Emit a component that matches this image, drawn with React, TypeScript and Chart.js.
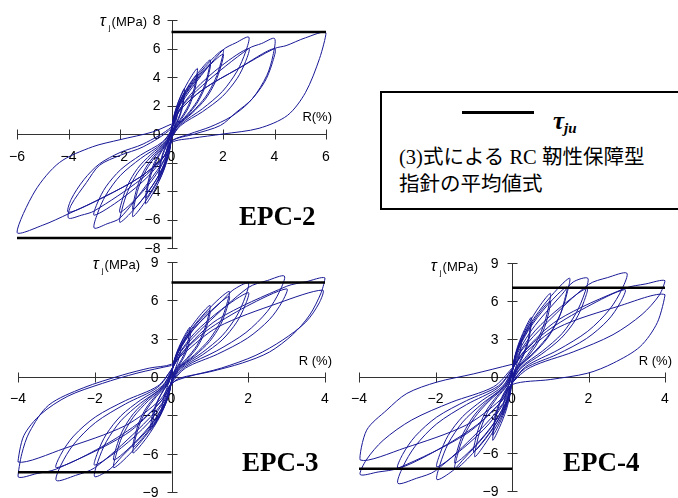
import React, { useEffect, useRef } from 'react';
import { Chart, registerables } from 'chart.js';
Chart.register(...registerables);

type Pt = [number, number];

const W = 678;
const H = 498;
const LOOP_COLOR = 'rgb(24,24,150)';

const epc2XTicks = [-6, -4, -2, 0, 2, 4, 6];
const epc2YTicks = [-8, -6, -4, -2, 0, 2, 4, 6, 8];
const epc34XTicks = [-4, -2, 0, 2, 4];
const epc34YTicks = [-9, -6, -3, 0, 3, 6, 9];

const epc2TauJu = [7.15, -7.3];
const epc3TauJu = [7.4, -7.45];
const epc4TauJu = [7.05, -7.25];

// EPC-2 : R (%) , tau_j (MPa) read along the recorded path
const epc2Loop: Pt[] = [
  [0, 0],
  [0.075, 0.94], [0.25, 1.8], [0.21, 1.17], [0.1, 0.47], [0, -0.2],
  [-0.075, -1.04], [-0.25, -2.0], [-0.21, -1.3], [-0.1, -0.52], [0, 0.2],
  [0.04, 0.8], [0.15, 1.66], [0.33, 2.56], [0.5, 3.2],
  [0.48, 2.7], [0.43, 2.1], [0.33, 1.4], [0.2, 0.83], [0.06, 0.32], [0, -0.2],
  [-0.04, -0.83], [-0.15, -1.72], [-0.33, -2.64], [-0.5, -3.3],
  [-0.48, -2.8], [-0.43, -2.15], [-0.33, -1.45], [-0.2, -0.86], [-0.06, -0.33], [0, 0.2],
  [0.04, 0.73], [0.15, 1.51], [0.33, 2.32], [0.5, 2.9],
  [0.48, 2.47], [0.43, 1.89], [0.33, 1.28], [0.2, 0.75], [0.06, 0.29], [0, -0.2],
  [-0.04, -0.75], [-0.15, -1.56], [-0.33, -2.4], [-0.5, -3.0],
  [-0.48, -2.55], [-0.43, -1.95], [-0.33, -1.32], [-0.2, -0.78], [-0.06, -0.3], [0, 0.2],
  [0.08, 1.15], [0.3, 2.39], [0.65, 3.68], [1.0, 4.6],
  [0.96, 3.91], [0.85, 2.99], [0.66, 2.02], [0.4, 1.2], [0.12, 0.46], [0, -0.3],
  [-0.08, -1.23], [-0.3, -2.55], [-0.65, -3.92], [-1.0, -4.9],
  [-0.96, -4.17], [-0.85, -3.19], [-0.66, -2.16], [-0.4, -1.27], [-0.12, -0.49], [0, 0.3],
  [0.08, 1.05], [0.3, 2.18], [0.65, 3.36], [1.0, 4.2],
  [0.96, 3.57], [0.85, 2.73], [0.66, 1.85], [0.4, 1.09], [0.12, 0.42], [0, -0.3],
  [-0.08, -1.13], [-0.3, -2.34], [-0.65, -3.6], [-1.0, -4.5],
  [-0.96, -3.83], [-0.85, -2.93], [-0.66, -1.98], [-0.4, -1.17], [-0.12, -0.45], [0, 0.3],
  [0.12, 1.3], [0.45, 2.7], [0.98, 4.16], [1.5, 5.2],
  [1.44, 4.42], [1.28, 3.38], [0.99, 2.29], [0.6, 1.35], [0.18, 0.52], [0, -0.3],
  [-0.12, -1.45], [-0.45, -3.02], [-0.98, -4.64], [-1.5, -5.8],
  [-1.44, -4.93], [-1.28, -3.77], [-0.99, -2.55], [-0.6, -1.51], [-0.18, -0.58], [0, 0.3],
  [0.12, 1.23], [0.45, 2.55], [0.98, 3.92], [1.5, 4.9],
  [1.44, 4.17], [1.28, 3.19], [0.99, 2.16], [0.6, 1.27], [0.18, 0.49], [0, -0.3],
  [-0.12, -1.33], [-0.45, -2.76], [-0.98, -4.24], [-1.5, -5.3],
  [-1.44, -4.5], [-1.28, -3.45], [-0.99, -2.33], [-0.6, -1.38], [-0.18, -0.53], [0, 0.3],
  [0.16, 1.48], [0.6, 3.07], [1.3, 4.72], [2.0, 5.9],
  [1.92, 5.02], [1.7, 3.84], [1.32, 2.6], [0.8, 1.53], [0.24, 0.59], [0, -0.3],
  [-0.16, -1.55], [-0.6, -3.22], [-1.3, -4.96], [-2.0, -6.2],
  [-1.92, -5.27], [-1.7, -4.03], [-1.32, -2.73], [-0.8, -1.61], [-0.24, -0.62], [0, 0.3],
  [0.16, 1.4], [0.6, 2.91], [1.3, 4.48], [2.0, 5.6],
  [1.92, 4.76], [1.7, 3.64], [1.32, 2.46], [0.8, 1.46], [0.24, 0.56], [0, -0.3],
  [-0.16, -1.38], [-0.6, -2.86], [-1.3, -4.4], [-2.0, -5.5],
  [-1.92, -4.68], [-1.7, -3.58], [-1.32, -2.42], [-0.8, -1.43], [-0.24, -0.55], [0, 0.3],
  [0.24, 1.7], [0.9, 3.5], [2.0, 5.9], [2.5, 6.4], [3.0, 6.8],
  [2.88, 5.78], [2.55, 4.42], [1.98, 2.99], [1.2, 1.77], [0.36, 0.68], [0, -0.3],
  [-0.24, -1.65], [-0.9, -3.4], [-2.0, -5.9], [-2.5, -6.3], [-3.0, -6.6],
  [-2.88, -5.61], [-2.55, -4.29], [-1.98, -2.9], [-1.2, -1.72], [-0.36, -0.66], [0, 0.3],
  [0.24, 1.5], [0.9, 3.1], [1.95, 4.8], [3.0, 6.0],
  [2.88, 5.1], [2.55, 3.9], [1.98, 2.64], [1.2, 1.56], [0.36, 0.6], [0, -0.3],
  [-0.24, -1.43], [-0.9, -2.96], [-1.95, -4.56], [-3.0, -5.7],
  [-2.88, -4.85], [-2.55, -3.71], [-1.98, -2.51], [-1.2, -1.48], [-0.36, -0.57], [0, 0.3],
  [0.3, 1.7], [1.2, 3.4], [3.0, 6.0], [3.5, 6.35], [4.0, 6.7],
  [3.94, 5.5], [3.7, 4.1], [3.15, 2.5], [2.5, 1.5], [1.9, 0.6], [0.9, 0.0], [0, -0.5],
  [-0.3, -1.6], [-1.2, -3.2], [-3.0, -5.4], [-3.5, -5.7], [-4.0, -5.9],
  [-3.9, -5.0], [-3.3, -3.4], [-2.8, -2.2], [-2.0, -1.5], [-1.1, -0.9], [0, 0.4],
  [0.3, 1.6], [1.2, 3.1], [2.6, 4.6], [4.0, 6.0],
  [3.9, 4.9], [3.6, 3.6], [3.0, 2.2], [2.3, 1.2], [1.5, 0.5], [0.7, 0.0], [0, -0.5],
  [-0.3, -1.6], [-1.2, -3.0], [-2.6, -4.4], [-4.0, -5.5],
  [-3.9, -4.6], [-3.4, -3.2], [-2.8, -2.1], [-2.0, -1.3], [-1.1, -0.7], [0, 0.5],
  [0.3, 1.6], [1.2, 3.1], [2.6, 4.6], [4.0, 6.0], [4.45, 6.2], [5.2, 6.75], [6.0, 7.1],
  [5.75, 5.3], [5.2, 2.9], [4.5, 1.3], [3.4, 0.4], [2.0, 0.0], [0.8, -0.3], [0, -0.6],
  [-0.3, -1.6], [-1.2, -3.0], [-2.6, -4.4], [-4.0, -5.6], [-5.0, -6.4], [-6.0, -6.9],
  [-5.3, -4.0], [-4.35, -2.0], [-3.07, -0.9], [-2.0, -0.4], [-0.74, 0.14], [0, 0.7],
];

// EPC-3
const epc3Loop: Pt[] = [
  [0, 0],
  [0.075, 1.3], [0.25, 2.5], [0.21, 1.63], [0.1, 0.65], [0, -0.3],
  [-0.075, -1.35], [-0.25, -2.6], [-0.21, -1.69], [-0.1, -0.68], [0, 0.3],
  [0.04, 0.98], [0.15, 2.03], [0.32, 3.12], [0.48, 3.9],
  [0.46, 3.32], [0.41, 2.54], [0.32, 1.72], [0.19, 1.01], [0.06, 0.39], [0, -0.3],
  [-0.04, -1.04], [-0.16, -2.16], [-0.36, -3.32], [-0.55, -4.15],
  [-0.53, -3.53], [-0.47, -2.7], [-0.36, -1.83], [-0.22, -1.08], [-0.07, -0.42], [0, 0.3],
  [0.04, 0.9], [0.15, 1.87], [0.33, 2.88], [0.5, 3.6],
  [0.48, 3.06], [0.43, 2.34], [0.33, 1.58], [0.2, 0.94], [0.06, 0.36], [0, -0.3],
  [-0.04, -0.98], [-0.15, -2.03], [-0.33, -3.12], [-0.5, -3.9],
  [-0.48, -3.32], [-0.43, -2.54], [-0.33, -1.72], [-0.2, -1.01], [-0.06, -0.39], [0, 0.3],
  [0.08, 1.4], [0.3, 2.91], [0.65, 4.48], [1.0, 5.6],
  [0.96, 4.76], [0.85, 3.64], [0.66, 2.46], [0.4, 1.46], [0.12, 0.56], [0, -0.4],
  [-0.08, -1.49], [-0.3, -3.09], [-0.65, -4.76], [-1.0, -5.95],
  [-0.96, -5.06], [-0.85, -3.87], [-0.66, -2.62], [-0.4, -1.55], [-0.12, -0.6], [0, 0.4],
  [0.08, 1.3], [0.3, 2.7], [0.65, 4.16], [1.0, 5.2],
  [0.96, 4.42], [0.85, 3.38], [0.66, 2.29], [0.4, 1.35], [0.12, 0.52], [0, -0.4],
  [-0.08, -1.38], [-0.3, -2.86], [-0.65, -4.4], [-1.0, -5.5],
  [-0.96, -4.68], [-0.85, -3.58], [-0.66, -2.42], [-0.4, -1.43], [-0.12, -0.55], [0, 0.4],
  [0.12, 1.68], [0.45, 3.48], [0.98, 5.36], [1.5, 6.7],
  [1.44, 5.7], [1.28, 4.36], [0.99, 2.95], [0.6, 1.74], [0.18, 0.67], [0, -0.4],
  [-0.12, -1.78], [-0.45, -3.69], [-0.98, -5.68], [-1.5, -7.1],
  [-1.44, -6.04], [-1.28, -4.62], [-0.99, -3.12], [-0.6, -1.85], [-0.18, -0.71], [0, 0.4],
  [0.12, 1.58], [0.45, 3.28], [0.98, 5.04], [1.5, 6.3],
  [1.44, 5.36], [1.28, 4.1], [0.99, 2.77], [0.6, 1.64], [0.18, 0.63], [0, -0.4],
  [-0.12, -1.63], [-0.45, -3.38], [-0.98, -5.2], [-1.5, -6.5],
  [-1.44, -5.53], [-1.28, -4.23], [-0.99, -2.86], [-0.6, -1.69], [-0.18, -0.65], [0, 0.4],
  [0.16, 1.84], [0.6, 3.82], [1.3, 5.9], [1.6, 6.8], [2.0, 7.35],
  [1.92, 6.25], [1.7, 4.78], [1.32, 3.23], [0.8, 1.91], [0.24, 0.74], [0, -0.4],
  [-0.16, -1.95], [-0.6, -4.06], [-1.3, -6.24], [-1.6, -7.2], [-2.0, -7.8],
  [-1.92, -6.63], [-1.7, -5.07], [-1.32, -3.43], [-0.8, -2.03], [-0.24, -0.78], [0, 0.5],
  [0.16, 1.65], [0.6, 3.43], [1.3, 5.28], [2.0, 6.6],
  [1.92, 5.61], [1.7, 4.29], [1.32, 2.9], [0.8, 1.72], [0.24, 0.66], [0, -0.4],
  [-0.16, -1.73], [-0.6, -3.59], [-1.3, -5.52], [-2.0, -6.9],
  [-1.92, -5.87], [-1.7, -4.49], [-1.32, -3.04], [-0.8, -1.79], [-0.24, -0.69], [0, 0.5],
  [0.24, 1.98], [0.9, 4.1], [2.0, 7.0], [2.5, 7.55], [2.94, 7.9],
  [2.82, 6.72], [2.5, 5.14], [1.94, 3.48], [1.18, 2.05], [0.35, 0.79], [0, -0.4],
  [-0.24, -2.03], [-0.9, -4.2], [-2.0, -7.1], [-2.5, -7.7], [-3.0, -8.1],
  [-2.88, -6.89], [-2.55, -5.27], [-1.98, -3.56], [-1.2, -2.11], [-0.36, -0.81], [0, 0.6],
  [0.24, 1.73], [0.9, 3.59], [1.95, 5.52], [3.0, 6.9],
  [2.88, 5.87], [2.55, 4.49], [1.98, 3.04], [1.2, 1.79], [0.36, 0.69], [0, -0.5],
  [-0.24, -1.78], [-0.9, -3.69], [-1.95, -5.68], [-3.0, -7.1],
  [-2.88, -6.04], [-2.55, -4.62], [-1.98, -3.12], [-1.2, -1.85], [-0.36, -0.71], [0, 0.6],
  [0.3, 2.0], [1.2, 4.5], [3.0, 7.1], [3.5, 7.45], [4.0, 7.75],
  [3.9, 6.6], [3.6, 4.85], [3.15, 3.3], [2.55, 1.95], [1.85, 1.1], [0.99, 0.4], [0.2, -0.1], [0, -0.6],
  [-0.3, -2.0], [-1.2, -4.5], [-3.0, -7.2], [-3.5, -7.55], [-4.0, -7.8],
  [-3.9, -6.0], [-3.7, -4.3], [-3.2, -2.2], [-2.3, -0.85], [-1.27, 0.16], [-0.57, 0.7], [0, 1.0],
  [0.3, 1.8], [1.2, 3.9], [2.8, 5.8], [3.94, 6.8],
  [3.85, 5.8], [3.5, 4.3], [2.9, 2.9], [2.2, 1.7], [1.3, 0.7], [0.4, 0.0], [0, -0.5],
  [-0.3, -1.8], [-1.2, -3.8], [-2.8, -5.6], [-4.0, -6.65],
  [-3.85, -4.6], [-3.4, -2.9], [-2.7, -1.5], [-1.8, -0.5], [-0.9, 0.3], [0, 0.9],
];

// EPC-4
const epc4Loop: Pt[] = [
  [0, 0],
  [0.075, 1.56], [0.25, 3.0], [0.21, 1.95], [0.1, 0.78], [0, -0.3],
  [-0.075, -1.56], [-0.25, -3.0], [-0.21, -1.95], [-0.1, -0.78], [0, 0.3],
  [0.04, 1.18], [0.15, 2.44], [0.33, 3.76], [0.5, 4.7],
  [0.48, 4.0], [0.43, 3.06], [0.33, 2.07], [0.2, 1.22], [0.06, 0.47], [0, -0.3],
  [-0.04, -1.25], [-0.15, -2.6], [-0.33, -4.0], [-0.5, -5.0],
  [-0.48, -4.25], [-0.43, -3.25], [-0.33, -2.2], [-0.2, -1.3], [-0.06, -0.5], [0, 0.3],
  [0.04, 1.08], [0.15, 2.24], [0.33, 3.44], [0.5, 4.3],
  [0.48, 3.66], [0.43, 2.8], [0.33, 1.89], [0.2, 1.12], [0.06, 0.43], [0, -0.3],
  [-0.04, -1.15], [-0.15, -2.39], [-0.33, -3.68], [-0.5, -4.6],
  [-0.48, -3.91], [-0.43, -2.99], [-0.33, -2.02], [-0.2, -1.2], [-0.06, -0.46], [0, 0.3],
  [0.08, 1.65], [0.3, 3.43], [0.65, 5.28], [1.0, 6.6],
  [0.96, 5.61], [0.85, 4.29], [0.66, 2.9], [0.4, 1.72], [0.12, 0.66], [0, -0.4],
  [-0.08, -1.58], [-0.3, -3.28], [-0.65, -5.04], [-0.97, -6.3],
  [-0.93, -5.36], [-0.82, -4.1], [-0.64, -2.77], [-0.39, -1.64], [-0.12, -0.63], [0, 0.4],
  [0.08, 1.5], [0.3, 3.12], [0.65, 4.8], [1.0, 6.0],
  [0.96, 5.1], [0.85, 3.9], [0.66, 2.64], [0.4, 1.56], [0.12, 0.6], [0, -0.4],
  [-0.08, -1.48], [-0.3, -3.07], [-0.65, -4.72], [-1.0, -5.9],
  [-0.96, -5.02], [-0.85, -3.84], [-0.66, -2.6], [-0.4, -1.53], [-0.12, -0.59], [0, 0.4],
  [0.12, 1.95], [0.45, 4.06], [0.98, 6.24], [1.5, 7.8],
  [1.44, 6.63], [1.28, 5.07], [0.99, 3.43], [0.6, 2.03], [0.18, 0.78], [0, -0.4],
  [-0.12, -1.83], [-0.45, -3.8], [-0.97, -5.84], [-1.49, -7.3],
  [-1.43, -6.21], [-1.27, -4.75], [-0.98, -3.21], [-0.6, -1.9], [-0.18, -0.73], [0, 0.4],
  [0.11, 1.78], [0.43, 3.69], [0.93, 5.68], [1.43, 7.1],
  [1.37, 6.04], [1.22, 4.62], [0.94, 3.12], [0.57, 1.85], [0.17, 0.71], [0, -0.4],
  [-0.12, -1.7], [-0.45, -3.54], [-0.97, -5.44], [-1.49, -6.8],
  [-1.43, -5.78], [-1.27, -4.42], [-0.98, -2.99], [-0.6, -1.77], [-0.18, -0.68], [0, 0.4],
  [0.16, 1.95], [0.6, 4.06], [1.3, 6.5], [1.6, 7.5], [1.98, 7.8],
  [1.9, 6.63], [1.68, 5.07], [1.31, 3.43], [0.79, 2.03], [0.24, 0.78], [0, -0.4],
  [-0.16, -2.03], [-0.6, -4.21], [-1.3, -6.6], [-1.55, -7.4], [-1.96, -8.1],
  [-1.88, -6.89], [-1.67, -5.27], [-1.29, -3.56], [-0.78, -2.11], [-0.24, -0.81], [0, 0.5],
  [0.16, 1.75], [0.6, 3.64], [1.3, 5.6], [1.96, 7.0],
  [1.88, 5.95], [1.67, 4.55], [1.29, 3.08], [0.78, 1.82], [0.24, 0.7], [0, -0.4],
  [-0.16, -1.78], [-0.6, -3.69], [-1.3, -5.68], [-1.96, -7.1],
  [-1.88, -6.04], [-1.67, -4.62], [-1.29, -3.12], [-0.78, -1.85], [-0.24, -0.71], [0, 0.5],
  [0.24, 2.05], [0.9, 4.26], [2.0, 7.3], [2.5, 7.85], [3.0, 8.2],
  [2.88, 6.97], [2.55, 5.33], [1.98, 3.61], [1.2, 2.13], [0.36, 0.82], [0, -0.5],
  [-0.24, -2.1], [-0.9, -4.37], [-2.0, -7.4], [-2.5, -8.0], [-2.98, -8.4],
  [-2.86, -7.14], [-2.53, -5.46], [-1.97, -3.7], [-1.19, -2.18], [-0.36, -0.84], [0, 0.6],
  [0.24, 1.73], [0.9, 3.59], [1.95, 5.52], [2.95, 6.9],
  [2.83, 5.87], [2.51, 4.49], [1.95, 3.04], [1.18, 1.79], [0.35, 0.69], [0, -0.5],
  [-0.24, -1.8], [-0.9, -3.74], [-1.95, -5.76], [-2.98, -7.2],
  [-2.86, -6.12], [-2.53, -4.68], [-1.97, -3.17], [-1.19, -1.87], [-0.36, -0.72], [0, 0.6],
  [0.3, 2.0], [1.2, 4.5], [2.95, 7.0], [3.5, 7.35], [4.0, 7.6],
  [3.85, 6.46], [3.4, 4.94], [2.64, 3.34], [1.6, 1.98], [0.48, 0.76], [0, -0.5],
  [-0.3, -2.0], [-1.2, -4.5], [-2.98, -7.2], [-3.5, -7.5], [-3.97, -7.7],
  [-3.81, -6.55], [-3.37, -5.0], [-2.62, -3.39], [-1.59, -2.0], [-0.48, -0.77], [0, 0.7],
  [0.3, 1.8], [1.2, 3.9], [2.8, 5.6], [4.0, 6.5],
  [3.8, 4.3], [3.35, 2.4], [2.65, 1.1], [1.98, 0.3], [1.0, -0.2], [0, -0.6],
  [-0.3, -1.8], [-1.2, -3.8], [-2.8, -5.6], [-3.97, -6.55],
  [-3.8, -4.2], [-3.27, -2.6], [-2.75, -1.3], [-1.96, -0.4], [-1.0, 0.25], [0, 1.0],
];

type PanelSpec = {
  id: string;
  loop: Pt[];
  tauJu: number[];
  xTicks: number[];
  yTicks: number[];
  pad: { left: number; right: number; top: number; bottom: number };
  xLabelDy: number;
  yLabelGap: number;
  titleRight: number;
  titleY: number;
  rLabel: string;
  rRight: number;
  rY: number;
};

const panels: PanelSpec[] = [
  {
    id: 'epc2', loop: epc2Loop, tauJu: epc2TauJu, xTicks: epc2XTicks, yTicks: epc2YTicks,
    pad: { left: 17, right: W - 326, top: 20, bottom: H - 248 },
    xLabelDy: 16, yLabelGap: 12, titleRight: 147, titleY: 22, rLabel: 'R(%)', rRight: 332, rY: 117,
  },
  {
    id: 'epc3', loop: epc3Loop, tauJu: epc3TauJu, xTicks: epc34XTicks, yTicks: epc34YTicks,
    pad: { left: 18, right: W - 325, top: 262, bottom: H - 492 },
    xLabelDy: 15, yLabelGap: 14, titleRight: 140, titleY: 265, rLabel: 'R (%)', rRight: 332, rY: 361,
  },
  {
    id: 'epc4', loop: epc4Loop, tauJu: epc4TauJu, xTicks: epc34XTicks, yTicks: epc34YTicks,
    pad: { left: 359, right: W - 665, top: 263, bottom: H - 491 },
    xLabelDy: 15, yLabelGap: 14, titleRight: 478, titleY: 267, rLabel: 'R (%)', rRight: 672, rY: 361,
  },
];

const fmt = (v: number) => (v < 0 ? '\u2212' + Math.abs(v) : String(v));

function makeAxesPlugin(p: PanelSpec) {
  return {
    id: 'crossAxes_' + p.id,
    beforeDatasetsDraw(chart: any) {
      const ctx: CanvasRenderingContext2D = chart.ctx;
      const xs = chart.scales.x;
      const ys = chart.scales.y;
      const x0 = Math.round(xs.getPixelForValue(0)) + 0.5;
      const y0 = Math.round(ys.getPixelForValue(0)) + 0.5;
      const xMin = p.xTicks[0];
      const xMax = p.xTicks[p.xTicks.length - 1];
      const yMin = p.yTicks[0];
      const yMax = p.yTicks[p.yTicks.length - 1];
      ctx.save();
      ctx.strokeStyle = '#333';
      ctx.lineWidth = 1;
      ctx.beginPath();
      ctx.moveTo(Math.round(xs.getPixelForValue(xMin)) + 0.5, y0);
      ctx.lineTo(Math.round(xs.getPixelForValue(xMax)) + 0.5, y0);
      ctx.moveTo(x0, Math.round(ys.getPixelForValue(yMax)) + 0.5);
      ctx.lineTo(x0, Math.round(ys.getPixelForValue(yMin)) + 0.5);
      p.xTicks.forEach((v) => {
        const px = Math.round(xs.getPixelForValue(v)) + 0.5;
        ctx.moveTo(px, y0 - 5);
        ctx.lineTo(px, y0 + 5);
      });
      p.yTicks.forEach((v) => {
        const py = Math.round(ys.getPixelForValue(v)) + 0.5;
        ctx.moveTo(x0 - 5, py);
        ctx.lineTo(x0 + 5, py);
      });
      ctx.stroke();

      ctx.fillStyle = '#000';
      ctx.font = '14px "Liberation Sans", Arial, sans-serif';
      ctx.textAlign = 'center';
      ctx.textBaseline = 'top';
      p.xTicks.forEach((v) => {
        ctx.fillText(fmt(v), xs.getPixelForValue(v), y0 + p.xLabelDy);
      });
      ctx.textAlign = 'right';
      ctx.textBaseline = 'middle';
      p.yTicks.forEach((v) => {
        ctx.fillText(fmt(v), x0 - p.yLabelGap, ys.getPixelForValue(v) + 1);
      });

      // axis titles
      ctx.font = '13px "Liberation Sans", Arial, sans-serif';
      ctx.textAlign = 'right';
      ctx.textBaseline = 'middle';
      ctx.fillText('(MPa)', p.titleRight, p.titleY);
      const mw = ctx.measureText('(MPa)').width;
      ctx.font = '8px "Liberation Sans", Arial, sans-serif';
      ctx.fillText('j', p.titleRight - mw - 1, p.titleY + 6);
      const jw = ctx.measureText('j').width;
      ctx.font = 'italic 16px "Liberation Sans", Arial, sans-serif';
      ctx.fillText('\u03c4', p.titleRight - mw - jw - 4, p.titleY);

      ctx.font = '13px "Liberation Sans", Arial, sans-serif';
      ctx.fillText(p.rLabel, p.rRight, p.rY);
      ctx.restore();
    },
  };
}

function Panel({ spec }: { spec: PanelSpec }) {
  const ref = useRef<HTMLCanvasElement>(null);
  useEffect(() => {
    const canvas = ref.current;
    if (!canvas) return;
    const xMin = spec.xTicks[0];
    const xMax = spec.xTicks[spec.xTicks.length - 1];
    const yMin = spec.yTicks[0];
    const yMax = spec.yTicks[spec.yTicks.length - 1];
    const chart = new Chart(canvas, {
      type: 'scatter',
      data: {
        datasets: [
          {
            data: [{ x: 0, y: spec.tauJu[0] }, { x: xMax, y: spec.tauJu[0] }],
            showLine: true, borderColor: '#000', borderWidth: 2.5, pointRadius: 0, tension: 0, clip: false,
          },
          {
            data: [{ x: xMin, y: spec.tauJu[1] }, { x: 0, y: spec.tauJu[1] }],
            showLine: true, borderColor: '#000', borderWidth: 2.5, pointRadius: 0, tension: 0, clip: false,
          },
          {
            data: spec.loop.map(([x, y]) => ({ x, y })),
            showLine: true, borderColor: LOOP_COLOR, borderWidth: 1, pointRadius: 0,
            tension: 0.3, clip: false,
          },
        ],
      },
      options: {
        responsive: false,
        animation: false,
        devicePixelRatio: 1,
        events: [],
        layout: { padding: spec.pad },
        scales: {
          x: { type: 'linear', min: xMin, max: xMax, display: false },
          y: { type: 'linear', min: yMin, max: yMax, display: false },
        },
        plugins: { legend: { display: false }, tooltip: { enabled: false }, title: { display: false } },
      } as any,
      plugins: [makeAxesPlugin(spec)],
    });
    return () => chart.destroy();
  }, [spec]);
  return (
    <canvas
      ref={ref}
      width={W}
      height={H}
      style={{ position: 'absolute', left: 0, top: 0, width: W, height: H }}
    />
  );
}

const epcLabelStyle: React.CSSProperties = {
  position: 'absolute',
  font: 'bold 27px/27px "Liberation Serif", "Times New Roman", serif',
  color: '#000',
  whiteSpace: 'nowrap',
};

export default function App() {
  return (
    <div
      style={{
        position: 'fixed', left: 0, top: 0, width: W, height: H, overflow: 'hidden', background: '#fff',
      }}
    >
      {panels.map((p) => (
        <Panel key={p.id} spec={p} />
      ))}
      <div style={{ ...epcLabelStyle, left: 239, top: 203 }}>EPC-2</div>
      <div style={{ ...epcLabelStyle, left: 242, top: 449 }}>EPC-3</div>
      <div style={{ ...epcLabelStyle, left: 563, top: 449 }}>EPC-4</div>
      <div
        style={{
          position: 'absolute', left: 380, top: 91, width: 330, height: 119, boxSizing: 'border-box',
          border: '2px solid #000', background: '#fff',
        }}
      >
        <div style={{ position: 'absolute', left: 80, top: 18, width: 72, height: 3, background: '#000' }} />
        <div
          style={{
            position: 'absolute', left: 171, top: 15, whiteSpace: 'nowrap',
            font: 'italic bold 25px/25px "Liberation Serif", serif',
          }}
        >
          {'\u03c4'}
          <span style={{ fontSize: 15, verticalAlign: -4 }}>ju</span>
        </div>
        <div
          style={{
            position: 'absolute', left: 17, top: 51, whiteSpace: 'nowrap',
            font: '20.5px/27px "Liberation Serif", "Noto Sans CJK JP", serif', color: '#000',
          }}
        >
          <div>(3)式による RC 靭性保障型</div>
          <div>指針の平均値式</div>
        </div>
      </div>
    </div>
  );
}
